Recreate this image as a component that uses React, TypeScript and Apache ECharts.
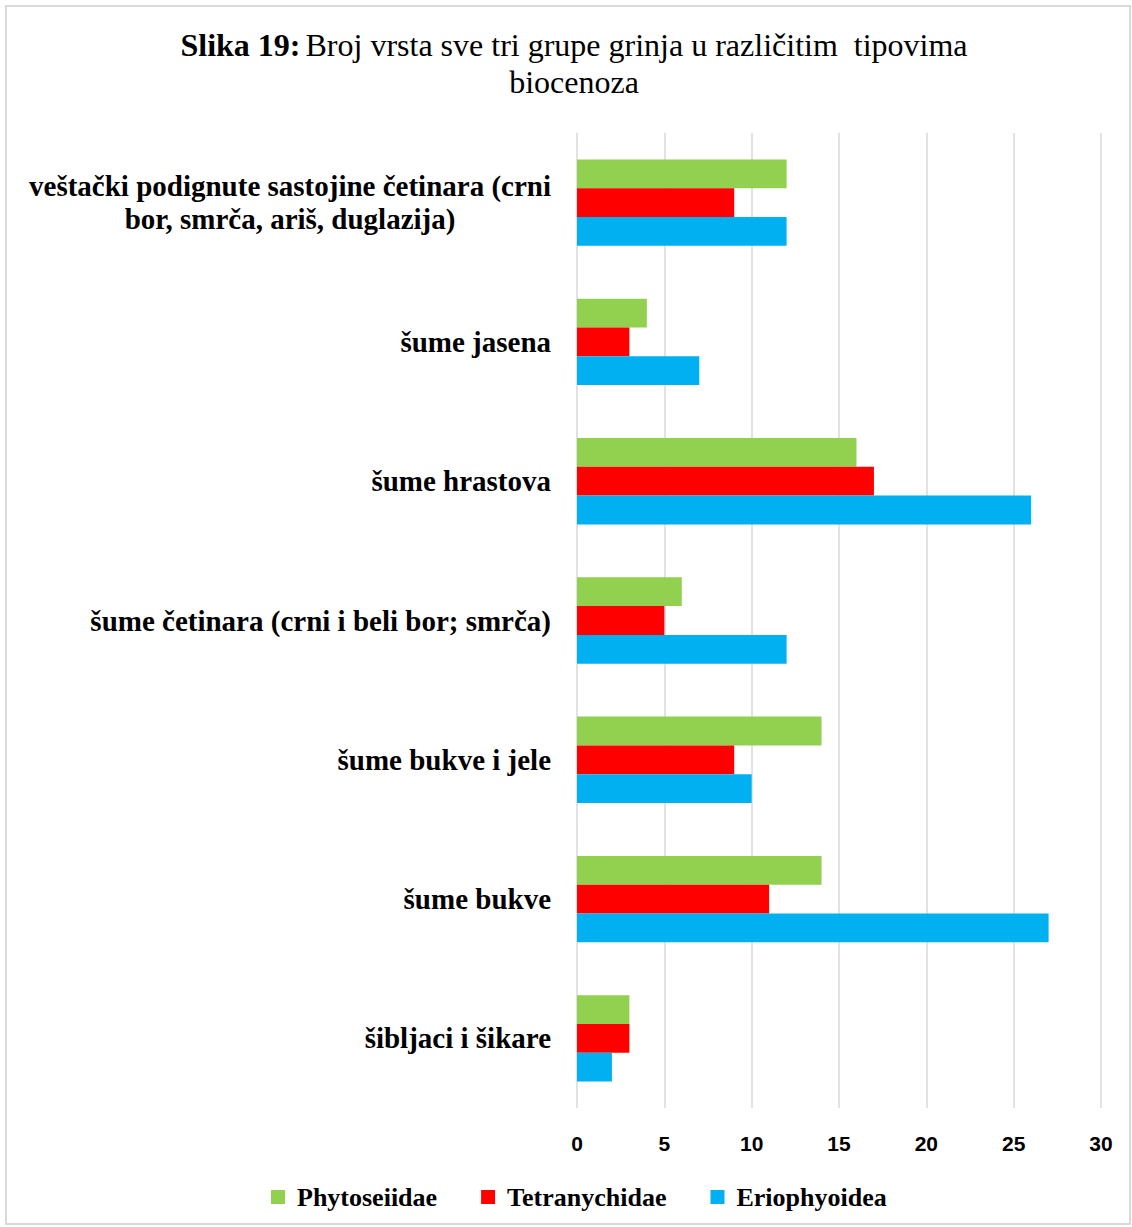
import React, { useEffect, useRef } from "react";
import * as echarts from "echarts";

const categories = [
  "šibljaci i šikare",
  "šume bukve",
  "šume bukve i jele",
  "šume četinara (crni i beli bor; smrča)",
  "šume hrastova",
  "šume jasena",
  "veštački podignute sastojine četinara (crni\nbor, smrča, ariš, duglazija)",
];
const phytoseiidae = [3, 14, 14, 6, 16, 4, 12];
const tetranychidae = [3, 11, 9, 5, 17, 3, 9];
const eriophyoidea = [2, 27, 10, 12, 26, 7, 12];
const xTicks = [0, 5, 10, 15, 20, 25, 30];

const SERIF = "'Liberation Serif', 'Times New Roman', serif";
const SANS = "'Liberation Sans', Arial, sans-serif";

export default function App() {
  const ref = useRef<HTMLDivElement>(null);
  useEffect(() => {
    document.body.style.margin = "0";
    const chart = echarts.init(ref.current!, null, { renderer: "svg" });
    const option: any = {
      animation: false,
      backgroundColor: "#ffffff",
      graphic: [
        {
          type: "rect",
          shape: { x: 6, y: 6, width: 1124, height: 1218 },
          style: { fill: "none", stroke: "#d9d9d9", lineWidth: 2 },
        },
      ],
      title: {
        left: 569,
        top: 21,
        textAlign: "center",
        text: "{b|Slika 19:} {n|Broj vrsta sve tri grupe grinja u različitim  tipovima}\n{n|biocenoza}",
        textStyle: {
          fontWeight: "normal",
          rich: {
            b: { fontFamily: SERIF, fontSize: 32, fontWeight: "bold", color: "#000", lineHeight: 37, align: "center" },
            n: { fontFamily: SERIF, fontSize: 32, fontWeight: "normal", color: "#000", lineHeight: 37, align: "center" },
          },
        },
      },
      legend: {
        bottom: 12,
        left: 266,
        itemWidth: 14,
        itemHeight: 14,
        itemGap: 44,
        icon: "rect",
        data: ["Phytoseiidae", "Tetranychidae", "Eriophyoidea"],
        textStyle: { fontFamily: SERIF, fontSize: 26, fontWeight: "bold", color: "#000", padding: [0, 0, 0, 7] },
      },
      grid: { left: 577, right: 31, top: 133, bottom: 119, containLabel: false },
      xAxis: {
        type: "value",
        min: 0,
        max: 30,
        interval: 5,
        axisLine: { show: false },
        axisTick: { show: false },
        splitLine: { show: true, lineStyle: { color: "#d9d9d9", width: 1.5 } },
        axisLabel: {
          margin: 25,
          fontFamily: SANS,
          fontSize: 21,
          fontWeight: "bold",
          color: "#000",
          formatter: (v: number) => (xTicks.includes(v) ? String(v) : ""),
        },
      },
      yAxis: {
        type: "category",
        data: categories,
        axisLine: { show: false },
        axisTick: { show: false },
        axisLabel: {
          margin: 26,
          formatter: (v: string) =>
            v
              .split("\n")
              .map((l) => "{c|" + l + "}")
              .join("\n"),
          rich: {
            c: {
              fontFamily: SERIF,
              fontSize: 29,
              fontWeight: "bold",
              color: "#000",
              lineHeight: 33,
              align: "center",
            },
          },
        },
      },
      series: [
        { name: "Phytoseiidae", type: "bar", data: phytoseiidae, itemStyle: { color: "#92d050" }, barGap: "0%", barCategoryGap: "38%" },
        { name: "Tetranychidae", type: "bar", data: tetranychidae, itemStyle: { color: "#ff0000" }, barGap: "0%", barCategoryGap: "38%" },
        { name: "Eriophyoidea", type: "bar", data: eriophyoidea, itemStyle: { color: "#00b0f0" }, barGap: "0%", barCategoryGap: "38%" },
      ],
    };
    chart.setOption(option);
    return () => chart.dispose();
  }, []);
  return <div ref={ref} style={{ width: 1132, height: 1227 }} />;
}
